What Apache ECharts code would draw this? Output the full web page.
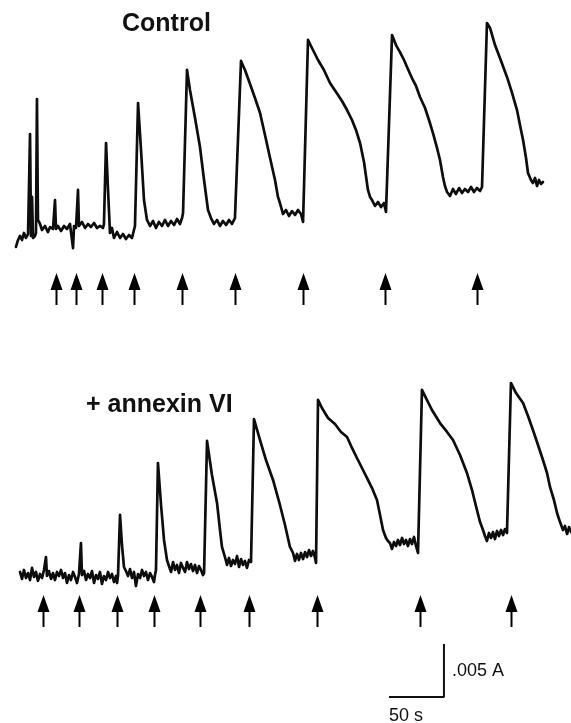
<!DOCTYPE html>
<html>
<head>
<meta charset="utf-8">
<script src="https://cdn.jsdelivr.net/npm/echarts@6/dist/echarts.min.js"></script>
<style>
html,body{margin:0;padding:0;background:#fff;}
#chart{width:571px;height:723px;}
</style>
</head>
<body>
<div id="chart"></div>
<script>
// Time in seconds, absorbance change in mA (10^-3 absorbance units)
var controlTrace = [[14.5,-0.80],[16.4,-0.14],[18.2,0.24],[20,-0.14],[21.8,0.52],[23.6,0.05],[25.5,0.42],[26.4,0.24],[27.3,9.86],[28.2,0.24],[29.1,3.92],[30,0.05],[31.8,0.24],[32.7,0.52],[33.6,13.16],[34.5,1.75],[36.4,1.37],[38.2,0.80],[40.9,1.18],[43.6,0.61],[45.5,1.08],[48.2,0.90],[50,3.63],[50.9,0.90],[52.7,1.18],[55.5,0.71],[58.2,1.18],[60.9,0.90],[63.6,1.37],[66.4,-0.90],[67.3,1.18],[69.1,0.99],[70.9,4.58],[71.8,1.18],[74.5,1.56],[77.3,0.99],[80,1.37],[82.7,1.08],[85.5,1.46],[88.2,0.99],[90.9,1.18],[93.6,0.99],[94.5,1.37],[96.4,9.01],[98.2,4.58],[100,0.52],[101.8,0.99],[103.6,0.05],[106.4,0.61],[109.1,0.05],[111.8,0.42],[114.5,-0.05],[117.3,0.33],[120,0.05],[121.8,0.80],[122.7,1.18],[125.5,12.78],[128.2,8.35],[130.9,3.63],[133.6,1.75],[136.4,1.18],[139.1,1.65],[141.8,0.99],[144.5,1.56],[147.3,1.18],[150,1.75],[152.7,1.18],[155.5,1.65],[158.2,1.27],[160.9,1.84],[163.6,1.37],[165.5,1.93],[166.4,2.41],[170,15.90],[172.7,14.01],[177.3,11.37],[181.8,8.63],[185.5,5.52],[189.1,2.69],[191.8,1.93],[194.5,1.37],[197.3,1.75],[200,1.18],[202.7,1.65],[205.5,1.27],[208.2,1.75],[210.9,1.37],[213.6,1.93],[214.5,2.03],[219.1,16.75],[222.7,15.90],[227.3,14.58],[231.8,13.25],[236.4,11.84],[240.9,9.76],[245.5,7.59],[250,5.52],[252.7,3.92],[254.5,3.35],[257.3,2.31],[260,2.69],[262.7,2.12],[265.5,2.59],[268.2,2.22],[270.9,2.69],[273.6,2.31],[275.5,1.56],[280,18.73],[283.6,17.97],[289.1,16.84],[294.5,15.90],[300,14.67],[305.5,13.82],[310.9,12.97],[315.5,12.12],[320,11.18],[323.6,10.24],[327.3,9.01],[330.9,7.22],[332.7,5.90],[334.5,4.58],[336.4,3.92],[338.2,3.63],[340.9,3.07],[343.6,3.44],[346.4,2.97],[349.1,3.35],[350.9,2.50],[351.8,2.41],[356.4,19.20],[360,18.25],[363.6,17.59],[367.3,16.84],[370,16.18],[374.5,15.14],[378.2,14.39],[381.8,13.35],[386.4,12.31],[390,11.18],[393.6,9.95],[397.3,8.54],[400,7.41],[402.7,5.80],[404.5,4.95],[406.4,4.39],[409.1,4.01],[411.8,4.67],[414.5,4.20],[417.3,4.76],[420,4.29],[422.7,4.67],[425.5,4.39],[428.2,4.86],[430.9,4.39],[433.6,4.76],[436.4,4.48],[438.2,4.86],[442.7,20.33],[445.5,19.86],[450,18.25],[454.5,17.03],[460.9,15.24],[465.5,13.73],[470,12.12],[472.7,10.71],[475.5,9.29],[478.2,7.59],[480,6.18],[482.7,5.52],[484.5,5.24],[486.4,5.71],[488.2,4.95],[490,5.52],[491.8,5.14],[493.6,5.33]];

var annexinTrace = [[18.2,0.54],[20,-0.12],[21.8,0.73],[23.6,-0.03],[25.5,0.44],[27.3,-0.22],[29.1,0.92],[30.9,0.07],[32.7,0.54],[34.5,-0.31],[36.4,0.35],[38.2,-0.03],[40,0.73],[41.8,1.95],[42.7,0.16],[44.5,0.63],[46.4,-0.12],[48.2,0.44],[50,-0.22],[51.8,0.54],[53.6,0.16],[55.5,0.73],[57.3,-0.03],[59.1,0.44],[60.9,-0.50],[62.7,0.25],[64.5,-0.22],[66.4,0.54],[68.2,0.07],[70,-0.50],[71.8,0.35],[73.6,3.27],[74.5,0.25],[76.4,0.63],[78.2,-0.22],[80,0.35],[81.8,-0.03],[83.6,0.63],[85.5,-0.50],[87.3,0.25],[89.1,-0.12],[90.9,0.54],[92.7,-0.59],[94.5,0.16],[96.4,-0.22],[98.2,0.54],[100,-0.03],[101.8,0.35],[103.6,-0.41],[105.5,0.16],[106.4,-0.50],[107.3,0.25],[109.1,5.92],[110.9,3.08],[112.7,1.01],[114.5,0.63],[116.4,0.16],[118.2,0.82],[120,-0.03],[121.8,0.54],[123.6,-0.78],[125.5,0.35],[127.3,-0.03],[129.1,0.73],[130.9,0.16],[132.7,0.54],[134.5,-0.22],[136.4,0.44],[138.2,0.07],[140,-0.41],[140.9,0.25],[141.8,0.73],[143.6,10.82],[146.4,6.86],[149.1,3.56],[151.8,1.67],[153.6,1.10],[155.5,0.54],[157.3,1.48],[159.1,0.73],[160.9,1.20],[162.7,0.44],[164.5,1.39],[166.4,0.92],[168.2,0.54],[170,1.48],[171.8,0.82],[173.6,1.29],[175.5,0.63],[177.3,1.20],[179.1,0.44],[180.9,1.10],[182.7,0.73],[184.5,0.25],[185.5,0.44],[188.2,12.90],[192.7,9.69],[197.3,7.05],[200,4.50],[201.8,2.90],[204.5,1.95],[206.4,1.20],[208.2,1.86],[210,1.10],[211.8,1.67],[213.6,1.29],[215.5,2.05],[217.3,1.01],[219.1,1.76],[220.9,1.20],[222.7,1.58],[224.5,0.92],[226.4,1.67],[228.2,1.48],[230.9,14.97],[236.4,12.99],[241.8,11.10],[248.2,9.22],[254.5,6.86],[259.1,4.97],[263.6,2.90],[266.4,2.33],[268.2,1.58],[270,2.24],[271.8,1.67],[273.6,2.33],[275.5,1.76],[277.3,2.42],[279.1,1.95],[280.9,2.61],[282.7,2.05],[284.5,2.52],[286.4,1.86],[287.3,1.39],[289.1,16.77],[292.7,16.01],[298.2,15.07],[304.5,14.50],[310,13.75],[315.5,13.27],[320,12.24],[324.5,11.29],[330,10.16],[334.5,9.22],[338.2,8.46],[342.7,7.33],[345.5,5.92],[348.2,4.50],[350.9,3.75],[352.7,3.46],[354.5,3.27],[356.4,2.71],[358.2,3.37],[360,2.99],[361.8,3.56],[363.6,3.08],[365.5,3.75],[367.3,3.18],[369.1,3.56],[370.9,2.99],[372.7,3.65],[374.5,3.18],[376.4,3.84],[378.2,2.99],[380,2.33],[383.6,17.71],[387.3,16.95],[392.7,15.82],[400,14.59],[406.4,13.75],[411.8,12.99],[418.2,11.58],[424.5,9.88],[429.1,8.27],[433.6,6.39],[436.4,5.25],[439.1,4.50],[440.9,3.93],[442.7,3.46],[444.5,4.22],[446.4,3.75],[448.2,4.31],[450,3.65],[451.8,4.41],[453.6,3.93],[455.5,4.50],[457.3,4.03],[459.1,4.59],[460.9,4.22],[461.8,4.22],[464.5,18.37],[469.1,17.42],[475.5,16.48],[480,15.25],[484.5,13.93],[489.1,12.52],[493.6,11.10],[497.3,9.88],[500,8.56],[503.6,7.33],[506.4,6.10],[509.1,5.25],[511.8,4.50],[513.6,4.88],[515.5,4.12],[517.3,4.78],[519.1,4.31]];

// Additions (arrows), times in seconds
var controlArrowTimes = [50.6, 69.4, 92.4, 121.8, 165.5, 213.9, 275.2, 350.0, 433.4];
var annexinArrowTimes = [39.4, 71.5, 106.1, 139.7, 182.1, 226.1, 287.9, 381.8, 464.3];

// Panel labels and scale bar
var panelLabels = ['Control', '+ annexin VI'];
var scaleBarTime = 50;     // s
var scaleBarAbs = 5;       // mA  (= .005 A)
var scaleBarLabels = ['.005 A', '50 s'];

var FONT = '"Liberation Sans", Arial, Helvetica, sans-serif';
var chart = echarts.init(document.getElementById('chart'));

function arrowSeries(times, level, xi, yi) {
  return {
    type: 'custom', xAxisIndex: xi, yAxisIndex: yi, silent: true,
    data: times.map(function (t) { return [t, level]; }),
    renderItem: function (params, api) {
      var p = api.coord([api.value(0), api.value(1)]);
      var x = Math.round(p[0]) + 0.5, y = p[1];
      return {
        type: 'group', children: [
          { type: 'polygon', shape: { points: [[x, y], [x - 6, y + 17], [x + 6, y + 17]] }, style: { fill: '#000' } },
          { type: 'line', shape: { x1: x, y1: y + 12, x2: x, y2: y + 32 }, style: { stroke: '#000', lineWidth: 2 } }
        ]
      };
    }
  };
}

var sbX0 = 353.6, sbY0 = -11.25;
var traceStyle = { color: '#0d0d0d', width: 2.7, join: 'round', cap: 'round' };
var option = {
  animation: false,
  backgroundColor: '#ffffff',
  grid: [
    { left: 0, right: 0, top: 0, height: 318 },
    { left: 0, right: 0, top: 318, height: 318 }
  ],
  xAxis: [
    { type: 'value', gridIndex: 0, min: 0, max: 519.09, show: false },
    { type: 'value', gridIndex: 1, min: 0, max: 519.09, show: false }
  ],
  yAxis: [
    { type: 'value', gridIndex: 0, min: -7.5, max: 22.5, show: false },
    { type: 'value', gridIndex: 1, min: -5.5, max: 24.5, show: false }
  ],
  series: [
    { type: 'line', xAxisIndex: 0, yAxisIndex: 0, data: controlTrace, showSymbol: false, symbol: 'none',
      lineStyle: traceStyle, silent: true },
    { type: 'line', xAxisIndex: 1, yAxisIndex: 1, data: annexinTrace, showSymbol: false, symbol: 'none',
      lineStyle: traceStyle, silent: true },
    arrowSeries(controlArrowTimes, -3.25, 0, 0),
    arrowSeries(annexinArrowTimes, -1.63, 1, 1),
    { type: 'line', xAxisIndex: 1, yAxisIndex: 1, clip: false, symbol: 'none', silent: true,
      data: [[sbX0, sbY0], [sbX0 + scaleBarTime, sbY0], [sbX0 + scaleBarTime, sbY0 + scaleBarAbs]],
      lineStyle: { color: '#111', width: 2 } }
  ],
  graphic: [
    { type: 'text', left: 122, top: 12, style: { text: panelLabels[0], font: 'bold 25px ' + FONT, fill: '#111' } },
    { type: 'text', left: 86, top: 393, style: { text: panelLabels[1], font: 'bold 25px ' + FONT, fill: '#111' } },
    { type: 'text', left: 452, top: 662, style: { text: scaleBarLabels[0], font: '18px ' + FONT, fill: '#111' } },
    { type: 'text', left: 389, top: 707, style: { text: scaleBarLabels[1], font: '18px ' + FONT, fill: '#111' } }
  ]
};
chart.setOption(option);
</script>
</body>
</html>
